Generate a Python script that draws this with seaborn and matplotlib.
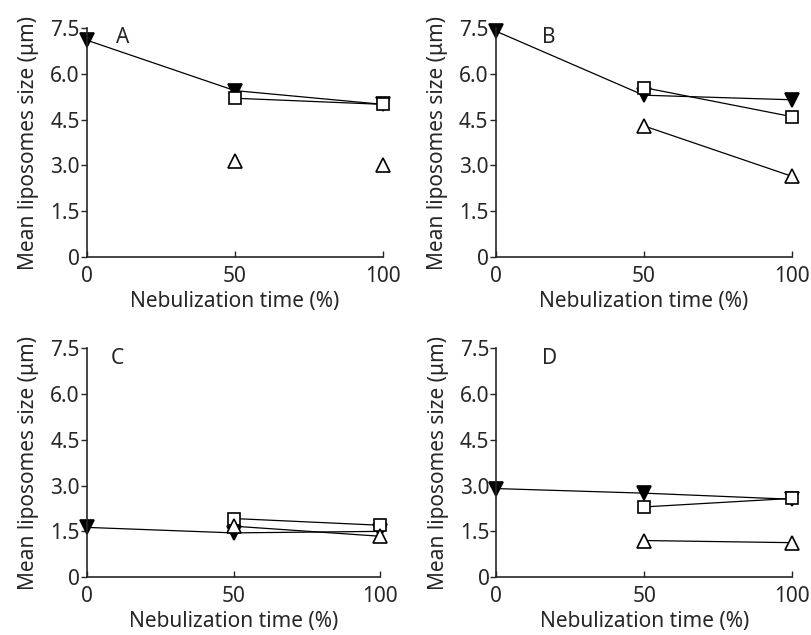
import pandas as pd
import seaborn as sns
import matplotlib.pyplot as plt

# Nebulization time points (%)
time_all = [0, 50, 100]
time_late = [50, 100]

# Values (mean liposome size, um)
a_filled = [7.1, 5.45, 5.0]
a_square = [5.2, 5.0]
a_open_tri = [3.15, 3.0]

b_filled = [7.4, 5.3, 5.15]
b_square = [5.55, 4.6]
b_open_tri = [4.3, 2.65]

c_filled = [1.63, 1.45, 1.5]
c_square = [1.92, 1.7]
c_open_tri = [1.67, 1.34]

d_filled = [2.9, 2.75, 2.55]
d_square = [2.3, 2.58]
d_open_tri = [1.2, 1.13]

panel_letters = ["A", "B", "C", "D"]
y_ticks = [0, 1.5, 3.0, 4.5, 6.0, 7.5]
y_ticklabels = ["0", "1.5", "3.0", "4.5", "6.0", "7.5"]
x_ticks = [0, 50, 100]

panels = {
    "A": [(time_all, a_filled, "v", "black", True),
          (time_late, a_square, "s", "white", True),
          (time_late, a_open_tri, "^", "white", False)],
    "B": [(time_all, b_filled, "v", "black", True),
          (time_late, b_square, "s", "white", True),
          (time_late, b_open_tri, "^", "white", True)],
    "C": [(time_all, c_filled, "v", "black", True),
          (time_late, c_square, "s", "white", True),
          (time_late, c_open_tri, "^", "white", True)],
    "D": [(time_all, d_filled, "v", "black", True),
          (time_late, d_square, "s", "white", True),
          (time_late, d_open_tri, "^", "white", True)],
}
letter_pos = {"A": (12, 7.2), "B": (18, 7.2), "C": (10.5, 7.17), "D": (18, 7.17)}

sns.set_style("ticks")
plt.rcParams["font.family"] = ["Noto Sans", "DejaVu Sans"]

fig = plt.figure(figsize=(8.11, 6.35), dpi=100)
rects = {
    "A": [0.107, 0.595, 0.365, 0.361],
    "B": [0.611, 0.595, 0.365, 0.361],
    "C": [0.107, 0.091, 0.362, 0.361],
    "D": [0.612, 0.091, 0.365, 0.361],
}

fs = 15
for letter in panel_letters:
    ax = fig.add_axes(rects[letter])
    for xs, ys, mk, fc, connect in panels[letter]:
        df = pd.DataFrame({"time": xs, "size": ys})
        sns.lineplot(data=df, x="time", y="size", ax=ax, color="black",
                     linewidth=0.9 if connect else 0, marker=mk,
                     markersize=9.5 if mk != "s" else 8,
                     markerfacecolor=fc, markeredgecolor="black",
                     markeredgewidth=1.2, clip_on=False)
    ax.set_xlim(0, 100)
    ax.set_ylim(0, 7.5)
    ax.set_yticks(y_ticks)
    ax.set_yticklabels(y_ticklabels)
    ax.set_xticks(x_ticks)
    ax.tick_params(axis="y", direction="out", length=4, width=1, labelsize=fs, pad=1)
    ax.tick_params(axis="x", direction="in", length=4, width=1, labelsize=fs, pad=6)
    for side in ["top", "right"]:
        ax.spines[side].set_visible(False)
    for side in ["left", "bottom"]:
        ax.spines[side].set_linewidth(1.2)
    ax.set_xlabel("Nebulization time (%)", fontsize=fs, labelpad=3)
    ax.set_ylabel("Mean liposomes size (\u03bcm)", fontsize=fs, labelpad=8)
    lx, ly = letter_pos[letter]
    ax.text(lx, ly, letter, fontsize=fs, ha="center", va="center")

fig.savefig("out.png", dpi=100)
